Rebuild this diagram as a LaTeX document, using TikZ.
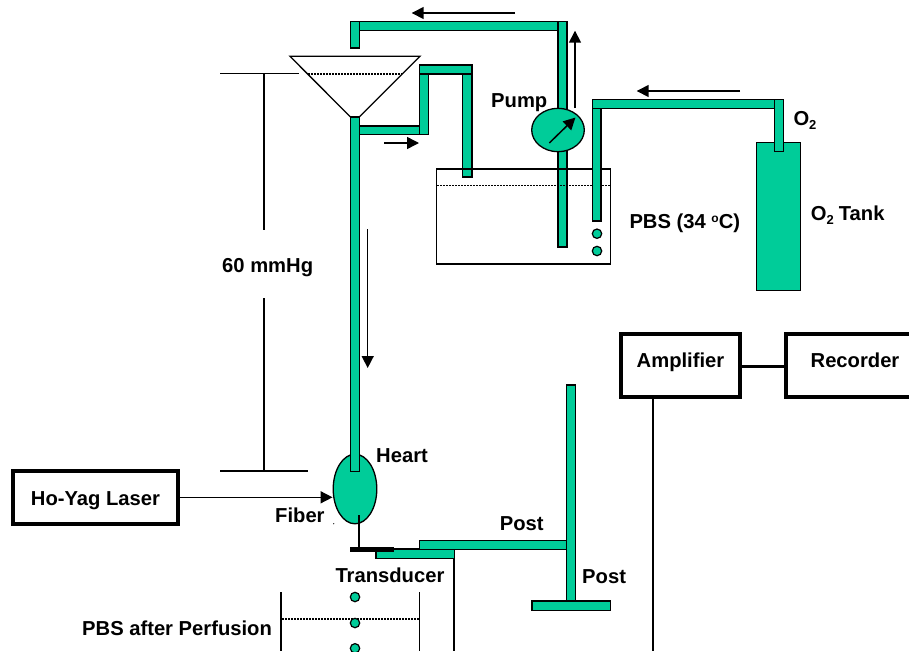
\documentclass[tikz,border=0pt]{standalone}
\usepackage{fontspec}
\setmainfont{Liberation Sans}[BoldFont={Liberation Sans Bold}]
\usetikzlibrary{shapes.geometric,arrows.meta}
\definecolor{tubegreen}{HTML}{00CC99}
\tikzset{
  tube/.style={draw=black,fill=tubegreen,line width=1.1pt},
  thinline/.style={draw=black,line width=1.5pt},
  flow/.style={draw=black,line width=1.5pt,-{Triangle[length=12pt,width=12pt]}},
  level/.style={draw=black,line width=1.5pt,dash pattern=on 2pt off 1pt},
  bigbox/.style={draw=black,line width=4pt,inner sep=0pt,anchor=north west,text height=34.2pt,text depth=28.8pt,font=\fontsize{20.2pt}{22pt}\selectfont\bfseries},
  lab/.style={anchor=base west,inner sep=0pt,font=\fontsize{20.2pt}{22pt}\selectfont\bfseries},
  bubble/.style={circle,draw=black,fill=tubegreen,line width=1.2pt,minimum size=9.4pt,inner sep=0pt}
}
\begin{document}
\begin{tikzpicture}[x=1pt,y=-1pt]
\useasboundingbox (0,0) rectangle (909,651);
% top return tube
\draw[tube] (350.5,21.7) rectangle (567,30.7);
\draw[tube] (350.5,21.7) rectangle (359.3,48);
\draw[tube] (558,21.7) rectangle (567,247);
% funnel
\draw[line width=1.3pt,fill=white] (290,56.3) -- (420,56.3) -- (359.3,117) -- (350.5,117) -- cycle;
\coordinate (funL) at (308,74);
\coordinate (funR) at (402,74);
\draw[level] (funL) -- (funR);
% overflow tube
\draw[tube] (359.3,126) rectangle (428.3,134.7);
\draw[tube] (419.7,65) rectangle (428.3,134.7);
\draw[tube] (419.7,65) rectangle (472,74);
\draw[tube] (462.7,74) rectangle (472,177);
% reservoir
\draw[line width=1.4pt] (436.7,169) rectangle (610.3,264);
\draw[level] (437,185.7) -- (610,185.7);
% oxygen line
\draw[tube] (592.3,99.3) rectangle (783.3,108.3);
\draw[tube] (592.3,108.3) rectangle (601,221);
\node[bubble] (b1) at (597,233.7) {};
\node[bubble] (b2) at (597,251) {};
\node[draw=black,fill=tubegreen,line width=1.2pt,minimum width=44pt,minimum height=147.6pt,inner sep=0pt] (tank) at (778.7,216.5) {};
\draw[tube] (774.3,99.3) rectangle (783.3,151.7);
% pump
\node[ellipse,draw=black,fill=tubegreen,line width=1.3pt,minimum width=52.6pt,minimum height=43.4pt,inner sep=0pt] (pump) at (558,130) {};
\coordinate (pa) at (549.3,143);
\coordinate (pb) at (575.5,117.5);
\draw[flow] (pa) -- (pb);
% heart
\node[ellipse,draw=black,fill=tubegreen,line width=1.3pt,minimum width=43.6pt,minimum height=69.6pt,inner sep=0pt] (heart) at (355,489) {};
\draw[tube] (350.5,117) rectangle (359.3,471.7);
\coordinate (h1) at (359,515);
\coordinate (h2) at (359,548);
\draw[thinline] (h1) -- (h2);
% transducer and post
\draw[tube] (376,549) rectangle (454.3,558.3);
\draw[tube] (419.3,540.3) rectangle (566.3,549.3);
\fill[black] (350,547.3) rectangle (394,551.7);
\draw[tube] (566.3,385) rectangle (575.3,601);
\draw[tube] (532,601) rectangle (610.3,610.3);
% beaker
\coordinate (bk1) at (281,592.3);
\coordinate (bk2) at (281,651);
\coordinate (bk3) at (419.7,592.3);
\coordinate (bk4) at (419.7,651);
\draw[thinline] (bk1) -- (bk2);
\draw[thinline] (bk3) -- (bk4);
\draw[level] (282,619) -- (419,619);
\node[bubble] (d1) at (355,597) {};
\node[bubble] (d2) at (355,623) {};
\node[bubble] (d3) at (355,648.3) {};
% transducer wire
\coordinate (w1) at (454,558.3);
\coordinate (w2) at (454,651);
\draw[thinline] (w1) -- (w2);
% boxes
\node[bigbox,minimum width=119pt] (amp) at (619,331.7) {Amplifier};
\node[bigbox,minimum width=138pt] (rec) at (784,331.7) {Recorder};
\node[bigbox,minimum width=165pt,text height=33.7pt,text depth=19pt] (laser) at (11,469.3) {Ho-Yag Laser};
\draw[line width=3pt] (amp.east) ++(0,1.5) coordinate (ar) (ar) -- (ar -| rec.west);
\coordinate (am) at (653,651);
\draw[thinline] (amp.south -| am) -- (am);
\draw[flow] (laser.east |- 0,497.3) -- (heart.west |- 0,497.3);
% dimension
\coordinate (t1) at (220,73.7);
\coordinate (t2) at (299,73.7);
\coordinate (t3) at (220,471);
\coordinate (t4) at (307.7,471);
\draw[thinline] (t1) -- (t2);
\draw[thinline] (t3) -- (t4);
\draw[thinline] (264,73.7) -- (264,230);
\draw[thinline] (264,298) -- (264,471);
% flow arrows
\coordinate (f1) at (515,13); \coordinate (f2) at (411.7,13);
\draw[flow] (f1) -- (f2);
\coordinate (f3) at (575,108); \coordinate (f4) at (575,30.7);
\draw[flow] (f3) -- (f4);
\coordinate (f5) at (384,143); \coordinate (f6) at (419,143);
\draw[flow] (f5) -- (f6);
\coordinate (f7) at (740,91); \coordinate (f8) at (636.7,91);
\draw[flow] (f7) -- (f8);
\coordinate (f9) at (367.7,229); \coordinate (f10) at (367.7,368);
\draw[flow] (f9) -- (f10);
\fill[black] (333.7,523.7) circle (0.6pt);
% labels
\node[lab] (l1) at (491,107) {Pump};
\node[lab] (l2) at (376,462) {Heart};
\node[lab] (l3) at (275,522) {Fiber};
\node[lab] (l4) at (499.7,530.7) {Post};
\node[lab] (l5) at (335.3,582.7) {Transducer};
\node[lab] (l6) at (582,583) {Post};
\node[lab] (l7) at (82,635) {PBS after Perfusion};
\node[lab] (l8) at (222,272) {60 mmHg};
\node[lab] (l9) at (629.3,228) {PBS (34 \raisebox{6pt}{\fontsize{12pt}{12pt}\selectfont o}C)};
\node[lab] (l10) at (793.3,125) {O\raisebox{-4pt}{\fontsize{13pt}{13pt}\selectfont 2}};
\node[lab] (l11) at (810.7,220) {O\raisebox{-4pt}{\fontsize{13pt}{13pt}\selectfont 2}\hspace{5pt}Tank};
\end{tikzpicture}
\end{document}
